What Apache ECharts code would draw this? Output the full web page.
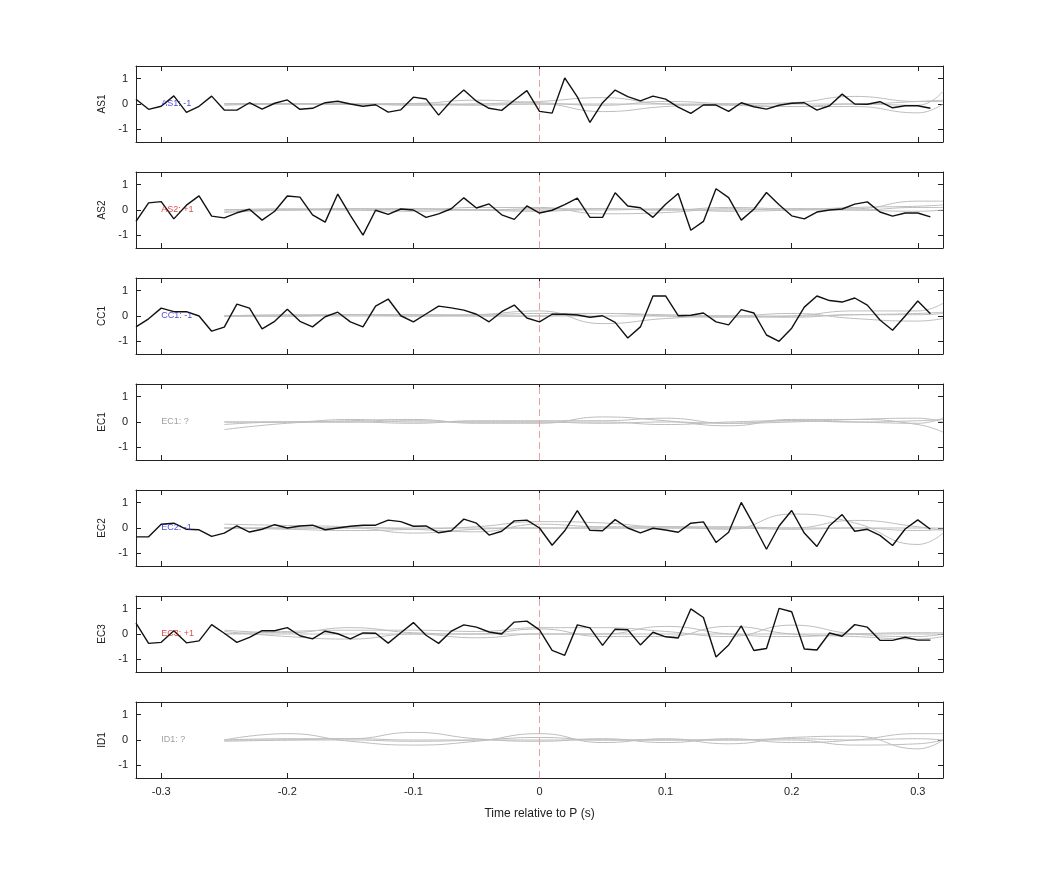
<!DOCTYPE html>
<html>
<head>
<meta charset="utf-8">
<script src="https://cdn.jsdelivr.net/npm/echarts@6/dist/echarts.min.js"></script>
<style>html,body{margin:0;background:#fff}#chart-container{width:1042px;height:875px}</style>
</head>
<body>
<div id="chart-container"></div>
<script>
// station names and polarity labels
var stations = ['AS1', 'AS2', 'CC1', 'EC1', 'EC2', 'EC3', 'ID1'];
var polarity = ['-1', '+1', '-1', '?', '-1', '+1', '?'];
var labelColors = ['#1a1acc', '#d42020', '#1a1acc', '#888888', '#1a1acc', '#d42020', '#888888'];
var xTicks = [-0.3, -0.2, -0.1, 0, 0.1, 0.2, 0.3];
var yTicks = [-1, 0, 1];

// black trace: one sample every 0.01 s from -0.32 to 0.31
var traceTimes = [];
for (var t = -32; t <= 31; t++) traceTimes.push(t / 100);

var traceAS1 = [0.19,-0.21,-0.09,0.32,-0.33,-0.09,0.31,-0.24,-0.24,0.05,-0.2,0.03,0.16,-0.21,-0.17,0.05,0.11,0,-0.09,-0.03,-0.32,-0.23,0.27,0.2,-0.44,0.12,0.55,0.11,-0.17,-0.25,0.15,0.53,
  -0.29,-0.36,1.03,0.28,-0.73,0.05,0.55,0.29,0.12,0.31,0.19,-0.12,-0.37,-0.04,-0.04,-0.29,0.05,-0.11,-0.2,-0.05,0.03,0.05,-0.24,-0.07,0.39,0,-0.01,0.09,-0.15,-0.07,-0.07,-0.17];
var traceAS2 = [-0.45,0.28,0.33,-0.35,0.19,0.56,-0.24,-0.31,-0.11,0.03,-0.4,-0.05,0.55,0.51,-0.19,-0.48,0.63,-0.21,-0.99,-0.01,-0.17,0.04,0,-0.29,-0.15,0.05,0.48,0.08,0.24,-0.19,-0.37,0.16,
  -0.12,-0.01,0.21,0.47,-0.29,-0.29,0.68,0.16,0.09,-0.29,0.23,0.65,-0.8,-0.45,0.84,0.49,-0.4,0.03,0.69,0.21,-0.23,-0.35,-0.08,0,0.04,0.23,0.32,-0.08,-0.24,-0.12,-0.12,-0.27];
var traceCC1 = [-0.43,-0.11,0.31,0.17,0.17,0,-0.6,-0.44,0.47,0.31,-0.51,-0.21,0.27,-0.21,-0.43,-0.03,0.15,-0.23,-0.43,0.39,0.67,0.01,-0.23,0.08,0.39,0.32,0.23,0.07,-0.23,0.17,0.43,-0.08,
  -0.23,0.07,0.07,0.04,-0.05,0.01,-0.25,-0.87,-0.43,0.79,0.79,0.01,0.03,0.12,-0.23,-0.35,0.25,0.12,-0.75,-1.0,-0.48,0.35,0.79,0.61,0.55,0.71,0.43,-0.16,-0.56,0,0.59,0.09];
var traceEC2 = [-0.35,-0.35,0.15,0.19,-0.05,-0.07,-0.33,-0.2,0.08,-0.16,-0.05,0.13,0,0.08,0.11,-0.07,0,0.07,0.11,0.11,0.31,0.25,0.07,0.08,-0.19,-0.11,0.35,0.19,-0.28,-0.13,0.28,0.31,
  0,-0.68,-0.11,0.69,-0.09,-0.11,0.33,0,-0.19,-0.01,-0.08,-0.17,0.19,0.24,-0.57,-0.17,1.01,0.11,-0.84,0.08,0.69,-0.2,-0.73,0.09,0.53,-0.13,-0.05,-0.29,-0.69,-0.04,0.32,-0.05];
var traceEC3 = [0.43,-0.37,-0.33,0.13,-0.35,-0.27,0.37,0.03,-0.33,-0.13,0.13,0.13,0.25,-0.07,-0.19,0.11,0.01,-0.19,0.04,0.03,-0.36,0.05,0.45,-0.05,-0.37,0.11,0.36,0.27,0.08,0,0.47,0.51,
  0.16,-0.65,-0.84,0.36,0.24,-0.45,0.19,0.17,-0.43,0.07,-0.11,-0.16,0.99,0.65,-0.91,-0.43,0.32,-0.65,-0.57,1.01,0.88,-0.59,-0.63,0.04,-0.09,0.37,0.27,-0.25,-0.25,-0.13,-0.24,-0.24];
var traces = [traceAS1, traceAS2, traceCC1, null, traceEC2, traceEC3, null];

// gray comparison traces, sampled coarsely from -0.25 to 0.32
var grayTimes = [-0.25,-0.2,-0.15,-0.1,-0.05,0,0.05,0.1,0.15,0.2,0.25,0.3,0.32];
var grayAS1 = [[0,0,0,0.02,0.15,0.05,-0.05,0.1,0,-0.1,0,-0.05,0.5],[0.02,0.02,0,0,-0.05,0,-0.3,-0.1,0,0.05,0.3,0.1,0.1],[-0.05,0,0,-0.05,0,0.1,0.25,0,-0.05,-0.1,-0.1,-0.35,0],[0,0,0,0,0,0,0,0,0,0,0,0.1,0.15]];
var grayAS2 = [[0.02,0,0.05,0.05,0,0.05,0.05,0,0.1,0.05,0.05,0.35,0.35],[-0.1,0,0.05,0,0.1,0.1,-0.15,-0.1,0.05,0,0,0.1,0.1],[0,0.05,0,-0.05,0,0,0,0.05,-0.05,0,0.1,0.15,0.2],[-0.05,0,0,0.05,0,-0.05,0.05,0,0,0.05,0,-0.05,0]];
var grayCC1 = [[0,0.05,0.05,0.05,0.05,0.1,0.1,0,-0.05,0,0.2,0.2,0.5],[0,0,0.05,0,0.05,0.2,-0.3,-0.1,0,-0.05,0.05,0.05,0.1],[0,0,0,0,0,0,0.1,0.05,0,0.1,-0.1,-0.2,-0.1],[0,0,0.05,0.05,0,0,0,0,0,0,0.05,0.1,0.15]];
var grayEC1 = [[-0.3,-0.05,0.05,0.1,-0.05,-0.05,0.2,0.05,-0.15,0.1,0.1,-0.1,-0.4],[-0.1,0,0,-0.05,0.05,0.05,0.05,0.15,-0.05,0.05,0,0.05,0.1],[0,0,0.1,0,0,0,-0.05,0,-0.05,0,0.1,0.15,0],[0,0,0,0.05,0,0,0,-0.1,0,0.05,0,-0.05,0.15]];
var grayEC2 = [[0.15,0.1,0.05,-0.05,-0.15,0.15,0.05,0.05,-0.05,0.55,0.2,-0.65,-0.2],[0,-0.05,-0.1,-0.05,0.05,0.25,0.2,0.05,0.05,0,0.3,0.05,-0.1],[0,0,0,-0.2,-0.05,0,0,0,0,-0.05,0,-0.1,-0.05],[0,0,0,0,0,0,0,0,0,0,0,0,0]];
var grayEC3 = [[0.15,0.05,0.25,0.05,0,0.2,-0.1,-0.1,0.3,0,-0.1,-0.2,-0.1],[0,0.1,0.15,0.15,0.1,0.25,0.25,0.1,-0.1,0.35,0,-0.1,0],[0.1,-0.1,-0.2,0,-0.15,0,0,0.3,0,-0.1,0,0.05,0.05],[0,0,0,0,0,0,0,0,0,0,0,0,0]];
var grayID1 = [[0,0.25,-0.05,-0.2,-0.05,0.25,-0.1,0.05,-0.15,0.1,0.15,-0.35,0],[0,0.05,0.05,0.3,0.05,-0.05,0.05,-0.1,0.05,-0.1,0,0.25,0.25],[0,0,0,-0.05,0,0.1,0,0,0,0,-0.2,-0.15,0],[-0.05,0,0.05,0,0,0,0,0,0,0.05,0,0.05,0]];
var grays = [grayAS1, grayAS2, grayCC1, grayEC1, grayEC2, grayEC3, grayID1];

var dom = document.getElementById('chart-container');
var myChart = echarts.init(dom, null, { renderer: 'canvas' });

var font = 'Helvetica, "Liberation Sans", Arial, sans-serif';
var grid = [], xAxis = [], yAxis = [], series = [];
var axisLine = { show: true, onZero: false, lineStyle: { color: '#222', width: 1 } };
var xTick = { show: true, inside: true, length: 5, customValues: xTicks, lineStyle: { color: '#222' } };
var yTick = { show: true, inside: true, length: 5, customValues: yTicks, lineStyle: { color: '#222' } };

stations.forEach(function (name, i) {
  var top = 66 + i * 106;
  grid.push({ left: 136, right: 99, top: top, height: 76 });
  var last = i === stations.length - 1;
  // bottom and top x axes
  xAxis.push({
    type: 'value', gridIndex: i, min: -0.32, max: 0.32,
    axisLine: axisLine, axisTick: xTick, splitLine: { show: false },
    axisLabel: { show: last, color: '#222', fontSize: 11, fontFamily: font, margin: 8,
      customValues: xTicks,
      formatter: function (v) { return Math.abs(v) < 1e-9 ? '0' : String(+v.toFixed(1)); } },
    name: last ? 'Time relative to P (s)' : '', nameLocation: 'middle', nameGap: 30,
    nameTextStyle: { color: '#222', fontSize: 12, fontFamily: font }
  });
  xAxis.push({
    type: 'value', gridIndex: i, position: 'top', min: -0.32, max: 0.32,
    axisLine: axisLine, axisTick: xTick, axisLabel: { show: false }, splitLine: { show: false }
  });
  yAxis.push({
    type: 'value', gridIndex: i, min: -1.5, max: 1.5,
    axisLine: axisLine, axisTick: yTick, splitLine: { show: false },
    axisLabel: { color: '#222', fontSize: 11, fontFamily: font, margin: 8, customValues: yTicks },
    name: name, nameLocation: 'middle', nameGap: 28,
    nameTextStyle: { color: '#222', fontSize: 10, fontFamily: font }
  });
  yAxis.push({
    type: 'value', gridIndex: i, position: 'right', min: -1.5, max: 1.5,
    axisLine: axisLine, axisTick: yTick, axisLabel: { show: false }, splitLine: { show: false }
  });

  grays[i].forEach(function (g) {
    series.push({
      type: 'line', xAxisIndex: 2 * i, yAxisIndex: 2 * i, smooth: true, symbol: 'none', silent: true,
      lineStyle: { color: '#bdbdbd', width: 1 },
      data: grayTimes.map(function (x, k) { return [x, g[k]]; })
    });
  });

  if (traces[i]) {
    series.push({
      type: 'line', xAxisIndex: 2 * i, yAxisIndex: 2 * i, symbol: 'none',
      lineStyle: { color: '#111', width: 1.4 }, z: 5,
      data: traceTimes.map(function (x, k) { return [x, traces[i][k]]; })
    });
  }

  // P arrival marker and polarity label
  series.push({
    type: 'scatter', xAxisIndex: 2 * i, yAxisIndex: 2 * i, symbolSize: 0, z: 6,
    data: [[-0.3, 0]],
    label: { show: true, position: 'right', distance: 0, formatter: name + ': ' + polarity[i],
      color: labelColors[i], fontSize: 9, fontFamily: font },
    markLine: { silent: true, symbol: 'none', label: { show: false },
      lineStyle: { color: '#e8a0a0', type: [7, 4], width: 1 },
      data: [{ xAxis: 0 }] }
  });
});

var option = { animation: false, grid: grid, xAxis: xAxis, yAxis: yAxis, series: series };
myChart.setOption(option);
</script>
</body>
</html>
